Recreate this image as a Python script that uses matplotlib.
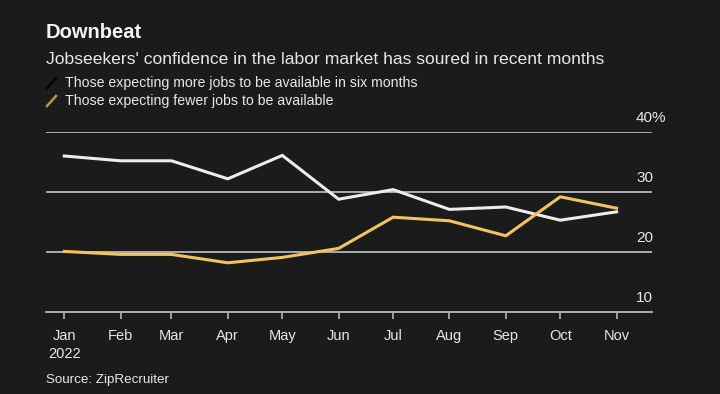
import matplotlib
matplotlib.use("Agg")
import matplotlib.pyplot as plt
import matplotlib.dates as mdates
import numpy as np

months = ["2022-01-01", "2022-02-01", "2022-03-01", "2022-04-01", "2022-05-01", "2022-06-01",
          "2022-07-01", "2022-08-01", "2022-09-01", "2022-10-01", "2022-11-01"]
month_labels = ["Jan\n2022", "Feb", "Mar", "Apr", "May", "Jun", "Jul", "Aug", "Sep", "Oct", "Nov"]
more_jobs = [36.0, 35.2, 35.2, 32.2, 36.1, 28.8, 30.4, 27.1, 27.5, 25.3, 26.7]
fewer_jobs = [20.1, 19.6, 19.6, 18.2, 19.1, 20.6, 25.8, 25.2, 22.7, 29.2, 27.3]
y_ticks = [10, 20, 30, 40]
y_tick_labels = ["10", "20", "30", "40%"]

BG = "#1b1b1c"
WHITE = "#ececec"
GOLD = "#f2c55c"
GRID = "#b5b5b5"
TEXT = "#e8e8e8"
FONT = "Liberation Sans"

dates = [mdates.datestr2num(m) for m in months]

W, H = 720, 394
fig = plt.figure(figsize=(7.2, 3.94), dpi=100, facecolor=BG)

left, right = 46, 652
top_px, bot_px = 132, 312
ax = fig.add_axes([left / W, 1 - bot_px / H, (right - left) / W, (bot_px - top_px) / H])
ax.set_facecolor(BG)

x_start = dates[0] - (64.3 - left) / 1.817
x_end = dates[-1] + (right - 616.6) / 1.817
ax.set_xlim(x_start, x_end)
ax.set_ylim(10, 40)

for yv in y_ticks[1:]:
    ax.axhline(yv, color=GRID, lw=1.3, zorder=1)

ax.plot(dates, more_jobs, color=WHITE, lw=2.2, solid_joinstyle="miter", zorder=3)
ax.plot(dates, fewer_jobs, color=GOLD, lw=2.2, solid_joinstyle="miter", zorder=4)

for s in ["top", "right", "left"]:
    ax.spines[s].set_visible(False)
ax.spines["bottom"].set_color(GRID)
ax.spines["bottom"].set_linewidth(1.3)
ax.set_yticks([])
ax.set_xticks(dates)
ax.set_xticklabels(month_labels, fontsize=10.5, color=TEXT, family=FONT, linespacing=1.35)
ax.tick_params(axis="x", length=5, width=1.2, color=GRID, pad=7)

for yv, lab in zip(y_ticks, y_tick_labels):
    ax.annotate(lab, xy=(1, yv), xycoords=("axes fraction", "data"),
                xytext=(-11.5, 5), textcoords="offset points",
                ha="left", va="bottom", fontsize=11, color=TEXT, family=FONT)

fig.text(left / W, 1 - 33 / H, "Downbeat", fontsize=14.5, fontweight="bold",
         color="#f4f4f4", family=FONT, va="center", ha="left")
fig.text(left / W, 1 - 60 / H,
         "Jobseekers' confidence in the labor market has soured in recent months",
         fontsize=12.6, color=TEXT, family=FONT, va="center", ha="left")

legend_items = [("Those expecting more jobs to be available in six months", "#050505", 83),
                ("Those expecting fewer jobs to be available", "#b8953f", 101)]
for text, col, yp in legend_items:
    fig.add_artist(plt.Line2D([47 / W, 56 / W], [1 - (yp + 5) / H, 1 - (yp - 5) / H],
                              color=col, lw=1.8, transform=fig.transFigure))
    fig.text(65 / W, 1 - yp / H, text, fontsize=10.2, color=TEXT, family=FONT,
             va="center", ha="left")

fig.text(left / W, 1 - 380 / H, "Source: ZipRecruiter", fontsize=9.6, color=TEXT,
         family=FONT, va="center", ha="left")

fig.savefig("out.png", dpi=100, facecolor=BG)
